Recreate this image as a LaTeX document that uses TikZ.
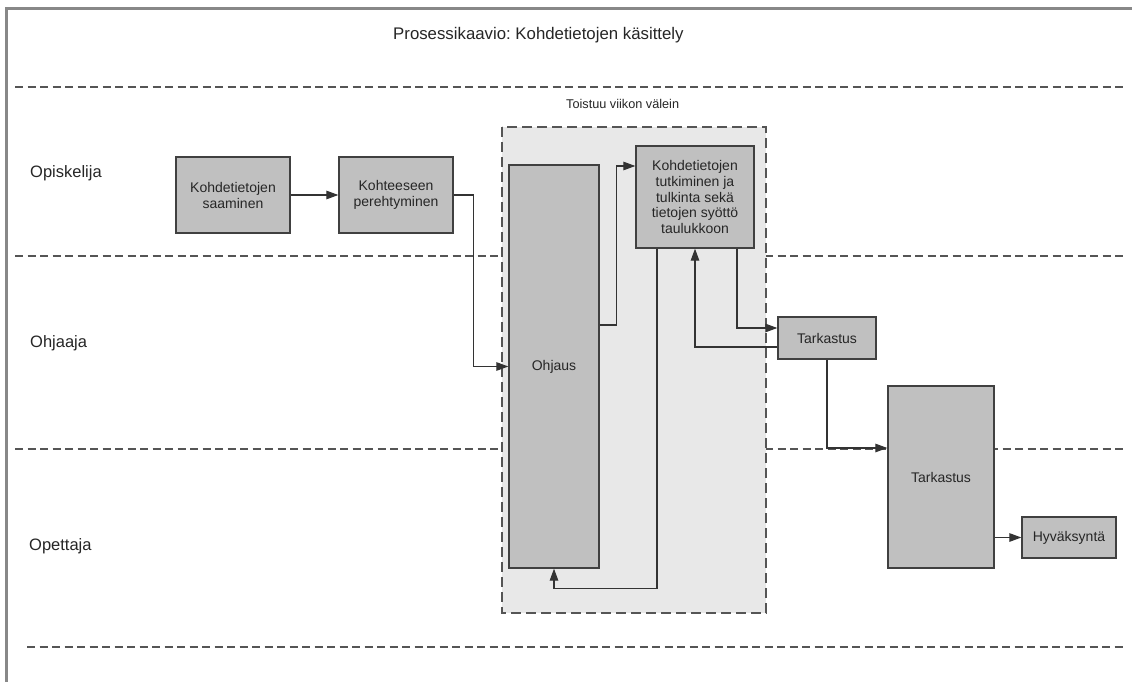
\documentclass[tikz,border=0pt]{standalone}
\usepackage{fontspec}
\setmainfont{Liberation Sans}
\usetikzlibrary{arrows.meta}
\frenchspacing
\definecolor{boxfill}{HTML}{C0C0C0}
\definecolor{boxline}{HTML}{404040}
\definecolor{groupfill}{HTML}{E8E8E8}
\definecolor{frameline}{HTML}{888888}
\definecolor{laneline}{HTML}{555555}
\definecolor{wire}{HTML}{333333}
\begin{document}
\begin{tikzpicture}[x=1pt,y=-1pt,
  procbox/.style={draw=boxline,line width=1.3pt,fill=boxfill,inner sep=2pt,
    align=center,font=\fontsize{14}{16}\selectfont,text=black!85},
  lanelabel/.style={anchor=base west,inner sep=0pt,font=\fontsize{16.5}{19}\selectfont,text=black!85},
  lanesep/.style={draw=laneline,line width=1.4pt,dash pattern=on 8pt off 4.5pt},
  arr/.style={draw=wire,line width=1.2pt,-{Triangle[length=12pt,width=8.5pt]}},
  plain/.style={draw=wire,line width=1.2pt}]
\useasboundingbox (0,0) rectangle (1132,682);
\fill[white] (0,0) rectangle (1132,682);

% outer frame (top and left edges)
\draw[frameline,line width=3pt] (6.5,682) -- (6.5,8.5) -- (1132,8.5);

% title and lane names
\node[anchor=base west,inner sep=0pt,font=\fontsize{16.8}{19}\selectfont,text=black!85]
  (title) at (393,40) {Prosessikaavio: Kohdetietojen käsittely};
\node[lanelabel] (lane1) at (30,177) {Opiskelija};
\node[lanelabel] (lane2) at (30,347) {Ohjaaja};
\node[lanelabel] (lane3) at (29,550) {Opettaja};

% lane separators
\draw[lanesep] (15,87) -- (1124,87);
\draw[lanesep] (15,256) -- (1124,256);
\draw[lanesep] (15,449) -- (1124,449);
\draw[lanesep] (27,647) -- (1124,647);

% weekly repeating group
\fill[groupfill] (502,127) rectangle (766,613);
\draw[laneline,line width=1.5pt,dash pattern=on 10pt off 5pt] (502,127) rectangle (766,613);
\node[anchor=base west,inner sep=0pt,font=\fontsize{12.7}{15}\selectfont,text=black!85]
  (grouplabel) at (566,109) {Toistuu viikon välein};

% process steps
\node[procbox,minimum width=114pt,minimum height=76pt] (k1) at (233,195)
  {Kohdetietojen\\saaminen};
\node[procbox,minimum width=114pt,minimum height=76pt] (k2) at (396,195)
  {Kohteeseen\\perehtyminen};
\node[procbox,minimum width=90pt,minimum height=403pt] (ohj) at (554,366.5) {Ohjaus};
\node[procbox,minimum width=118pt,minimum height=102pt,font=\fontsize{14}{15.7}\selectfont]
  (tutk) at (695,197)
  {Kohdetietojen\\tutkiminen ja\\tulkinta sekä\\tietojen syöttö\\taulukkoon};
\node[procbox,minimum width=98pt,minimum height=42pt] (tark1) at (827,338) {Tarkastus};
\node[procbox,minimum width=106pt,minimum height=182pt] (tark2) at (941,477) {Tarkastus};
\node[procbox,minimum width=94pt,minimum height=41pt] (hyv) at (1069,537.5) {Hyväksyntä};

% flow
\draw[arr] (k1.east) -- (k2.west);
\draw[arr] (k2.east) -- ++(20,0) |- (ohj.west);
\draw[arr] ([yshift=41.5pt]ohj.east) -- ++(17,0) |- ([yshift=31pt]tutk.west);
\draw[arr] ([xshift=-38pt]tutk.south) -- ++(0,340) -| (ohj.south);
\draw[arr] ([xshift=42pt]tutk.south) |- ([yshift=10pt]tark1.west);
\draw[arr] ([yshift=-9pt]tark1.west) -| (tutk.south);
\draw[arr] (tark1.south) |- ([yshift=29pt]tark2.west);
\draw[arr] (tark2.east |- hyv.west) -- (hyv.west);
\end{tikzpicture}
\end{document}
